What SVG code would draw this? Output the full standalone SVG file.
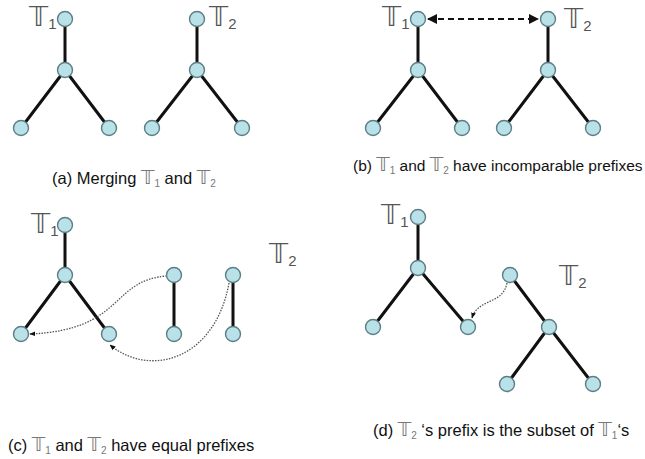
<svg xmlns="http://www.w3.org/2000/svg" width="645" height="459" viewBox="0 0 645 459">
<style>
.n{fill:#b9e1e8;stroke:#5d7d84;stroke-width:1.4}
.e{stroke:#111;stroke-width:3;fill:none;stroke-linecap:round}
.big{font-family:"DejaVu Sans",sans-serif;font-size:27px;fill:#555}
.sub{font-family:"Liberation Sans",sans-serif;font-size:15px;fill:#555}
.cap{font-family:"Liberation Sans",Arial,sans-serif;font-size:16.5px;fill:#111}
.capb{font-size:15.5px}
.capT{font-family:"DejaVu Sans",sans-serif;font-size:19px;fill:#777}
.capS{font-size:10px;fill:#777}
.dot{stroke:#555;stroke-width:1.3;fill:none;stroke-dasharray:1.5 1.3}
.dash{stroke:#111;stroke-width:2;fill:none;stroke-dasharray:6 4}
</style>
<defs>
<marker id="ah" viewBox="0 0 10 10" refX="9" refY="5" markerWidth="5" markerHeight="5" orient="auto-start-reverse"><path d="M0,0 L10,5 L0,10 z" fill="#111"/></marker>
<marker id="ahs" viewBox="0 0 10 10" refX="9" refY="5" markerWidth="6" markerHeight="6" markerUnits="userSpaceOnUse" orient="auto"><path d="M0,1 L10,5 L0,9 z" fill="#111"/></marker>
</defs>
<rect width="645" height="459" fill="#fff"/>
<g id="connectors">
<path class="e" d="M65,19 L65,70 M65,70 L21,128 M65,70 L109,128"/>
<path class="e" d="M197,19 L197,70 M197,70 L152,128 M197,70 L242,128"/>
<path class="e" d="M418,19 L418,70 M418,70 L373,128 M418,70 L462,128"/>
<path class="e" d="M548,19 L548,70 M548,70 L504,128 M548,70 L593,128"/>
<path class="dash" d="M428,19 L538,19" marker-start="url(#ah)" marker-end="url(#ah)"/>
<path class="e" d="M65,225 L65,275 M65,275 L21,334 M65,275 L109,334"/>
<path class="e" d="M174,275 L174,334"/>
<path class="e" d="M233,275 L233,334"/>
<path class="dot" d="M167,276 C110,280 125,330 30,334" marker-end="url(#ahs)"/>
<path class="dot" d="M229,283 C215,360 150,378 110,345" marker-end="url(#ahs)"/>
<path class="e" d="M418,217 L418,268 M418,268 L373,327 M418,268 L468,327"/>
<path class="e" d="M510,275 L549,327 M549,327 L507,384 M549,327 L593,384"/>
<path class="dot" d="M507,283 C503,305 478,298 472,318" marker-end="url(#ahs)"/>
</g>
<g id="a-nodes">
<circle class="n" cx="65" cy="19" r="7.5"/><circle class="n" cx="65" cy="70" r="7.5"/><circle class="n" cx="21" cy="128" r="7.5"/><circle class="n" cx="109" cy="128" r="7.5"/>
<circle class="n" cx="197" cy="19" r="7.5"/><circle class="n" cx="197" cy="70" r="7.5"/><circle class="n" cx="152" cy="128" r="7.5"/><circle class="n" cx="242" cy="128" r="7.5"/>
</g>
<g id="b-nodes">
<circle class="n" cx="418" cy="19" r="7.5"/><circle class="n" cx="418" cy="70" r="7.5"/><circle class="n" cx="373" cy="128" r="7.5"/><circle class="n" cx="462" cy="128" r="7.5"/>
<circle class="n" cx="548" cy="19" r="7.5"/><circle class="n" cx="548" cy="70" r="7.5"/><circle class="n" cx="504" cy="128" r="7.5"/><circle class="n" cx="593" cy="128" r="7.5"/>
</g>
<g id="c-nodes">
<circle class="n" cx="65" cy="225" r="7.5"/><circle class="n" cx="65" cy="275" r="7.5"/><circle class="n" cx="21" cy="334" r="7.5"/><circle class="n" cx="109" cy="334" r="7.5"/>
<circle class="n" cx="174" cy="275" r="7.5"/><circle class="n" cx="174" cy="334" r="7.5"/>
<circle class="n" cx="233" cy="275" r="7.5"/><circle class="n" cx="233" cy="334" r="7.5"/>
</g>
<g id="d-nodes">
<circle class="n" cx="418" cy="217" r="7.5"/><circle class="n" cx="418" cy="268" r="7.5"/><circle class="n" cx="373" cy="327" r="7.5"/><circle class="n" cx="468" cy="327" r="7.5"/>
<circle class="n" cx="510" cy="275" r="7.5"/><circle class="n" cx="549" cy="327" r="7.5"/><circle class="n" cx="507" cy="384" r="7.5"/><circle class="n" cx="593" cy="384" r="7.5"/>
</g>
<g id="labels">
<text x="29" y="26" class="big">𝕋<tspan class="sub" dy="3">1</tspan></text>
<text x="209" y="26" class="big">𝕋<tspan class="sub" dy="3">2</tspan></text>
<text x="382" y="26" class="big">𝕋<tspan class="sub" dy="3">1</tspan></text>
<text x="564" y="28" class="big">𝕋<tspan class="sub" dy="3">2</tspan></text>
<text x="31" y="233" class="big">𝕋<tspan class="sub" dy="3">1</tspan></text>
<text x="269" y="263" class="big">𝕋<tspan class="sub" dy="3">2</tspan></text>
<text x="381" y="224" class="big">𝕋<tspan class="sub" dy="3">1</tspan></text>
<text x="559" y="285" class="big">𝕋<tspan class="sub" dy="3">2</tspan></text>
</g>
<g id="captions">
<text x="52" y="184" class="cap">(a) Merging <tspan class="capT">𝕋</tspan><tspan class="capS" dy="3">1</tspan><tspan dy="-3"> and </tspan><tspan class="capT">𝕋</tspan><tspan class="capS" dy="3">2</tspan></text>
<text x="353" y="171" class="cap capb">(b) <tspan class="capT">𝕋</tspan><tspan class="capS" dy="3">1</tspan><tspan dy="-3"> and </tspan><tspan class="capT">𝕋</tspan><tspan class="capS" dy="3">2</tspan><tspan dy="-3"> have incomparable prefixes</tspan></text>
<text x="8" y="451" class="cap">(c) <tspan class="capT">𝕋</tspan><tspan class="capS" dy="3">1</tspan><tspan dy="-3"> and </tspan><tspan class="capT">𝕋</tspan><tspan class="capS" dy="3">2</tspan><tspan dy="-3"> have equal prefixes</tspan></text>
<text x="373" y="436" class="cap">(d) <tspan class="capT">𝕋</tspan><tspan class="capS" dy="3">2</tspan><tspan dy="-3"> ‘s prefix is the subset of </tspan><tspan class="capT">𝕋</tspan><tspan class="capS" dy="3">1</tspan><tspan dy="-3">‘s</tspan></text>
</g>
</svg>
